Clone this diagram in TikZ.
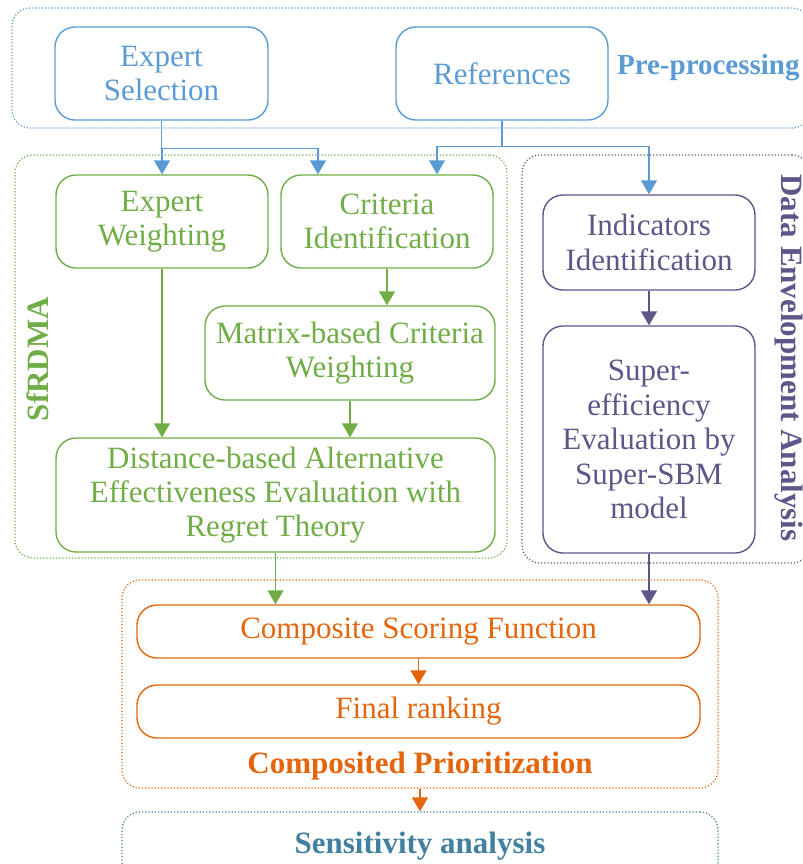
\documentclass[tikz,border=0pt]{standalone}
\usepackage{fontspec}
\setmainfont{Liberation Serif}
\usepackage{tikz}
\usetikzlibrary{positioning,arrows.meta}
\usepackage{xcolor}

\definecolor{preblue}{HTML}{5B9BD5}
\definecolor{sfgreen}{HTML}{70AD47}
\definecolor{deapurple}{HTML}{5E5589}
\definecolor{cporange}{HTML}{E4650C}
\definecolor{sensblue}{HTML}{41819F}

\begin{document}
\begin{tikzpicture}[x=0.5pt, y=-0.5pt,
    bx/.style={draw, rounded corners=10pt, align=center, line width=0.7pt,
               inner sep=2pt, font=\fontsize{15.5}{17.2}\selectfont},
    grp/.style={draw, densely dotted, rounded corners=9pt, line width=0.6pt, inner sep=0pt},
    lbl/.style={font=\fontsize{15.5}{17.2}\selectfont\bfseries},
    ar/.style={-{Triangle[length=7pt,width=8pt]}, line width=0.7pt},
]
\useasboundingbox (0,0) rectangle (803,864);

% === Groups ===
\node[grp, preblue, minimum width=399pt, minimum height=60pt] at (411,68) (pre) {};
\node[grp, sfgreen, minimum width=246pt, minimum height=201.5pt] at (261,356.5) (sfr) {};
\node[grp, deapurple, minimum width=144pt, minimum height=204pt] at (666,359) (dea) {};
\node[grp, cporange, minimum width=298pt, minimum height=104pt] at (420,684) (cp) {};
\node[grp, sensblue, minimum width=298pt, minimum height=34pt, lbl] at (420,846) (sens) {Sensitivity analysis};

% === Pre-processing ===
\node[bx, preblue, minimum width=106.5pt, minimum height=46.5pt] at (161.5,73.5) (sel) {Expert\\Selection};
\node[bx, preblue, minimum width=106pt, minimum height=46.5pt] at (502,73.5) (ref) {References};

% === SfRDMA ===
\node[bx, sfgreen, minimum width=106pt, minimum height=46.5pt] at (162,221.5) (ew) {Expert\\Weighting};
\node[bx, sfgreen, minimum width=106pt, minimum height=46.5pt] at (387,221.5) (ci) {Criteria\\Identification};
\node[bx, sfgreen, minimum width=145pt, minimum height=47pt] at (350,353) (mcw) {Matrix-based Criteria\\Weighting};
\node[bx, sfgreen, minimum width=219.5pt, minimum height=57pt] at (275.5,495) (dist) {Distance-based Alternative\\Effectiveness Evaluation with\\Regret Theory};

% === Data Envelopment Analysis ===
\node[bx, deapurple, minimum width=106pt, minimum height=47.5pt] at (649,242.5) (ind) {Indicators\\Identification};
\node[bx, deapurple, minimum width=106pt, minimum height=113.5pt] at (649,439.5) (sup) {Super-\\efficiency\\Evaluation by\\Super-SBM\\model};

% === Composited Prioritization ===
\node[bx, cporange, minimum width=281.5pt, minimum height=26.5pt] at (418.5,631.5) (csf) {Composite Scoring Function};
\node[bx, cporange, minimum width=281.5pt, minimum height=26.5pt] at (418.5,711.5) (fr) {Final ranking};

% --- Labels ---
\node[lbl, preblue, anchor=east, inner sep=1pt, font=\fontsize{14.5}{17}\selectfont\bfseries] at (802,68) (prel) {Pre-processing};
\node[lbl, sfgreen, rotate=90] at (38,359) (sfrl) {SfRDMA};
\node[lbl, deapurple, rotate=-90] at (789,358) (deal) {Data Envelopment Analysis};
\node[lbl, cporange] at (420,766) (cpl) {Composited Prioritization};

% --- Arrows ---
\draw[ar, preblue] (sel.south) -- ++(0,28) -| (ew.north);
\draw[ar, preblue] (sel.south) -- ++(0,28) -| ([xshift=-34.5pt]ci.north);
\draw[ar, preblue] (ref.south) -- ++(0,26) -| ([xshift=25pt]ci.north);
\draw[ar, preblue] (ref.south) -- ++(0,26) -| (ind.north);
\draw[ar, sfgreen] (ew.south) -- (ew.south |- dist.north);
\draw[ar, sfgreen] (ci.south) -- (ci.south |- mcw.north);
\draw[ar, sfgreen] (mcw.south) -- (mcw.south |- dist.north);
\draw[ar, deapurple] (ind) -- (sup);
\draw[ar, sfgreen] (dist.south) -- (dist.south |- csf.north);
\draw[ar, deapurple] (sup.south) -- (sup.south |- csf.north);
\draw[ar, cporange] (csf) -- (fr);
\draw[ar, cporange] (cp) -- (sens);

\end{tikzpicture}
\end{document}
